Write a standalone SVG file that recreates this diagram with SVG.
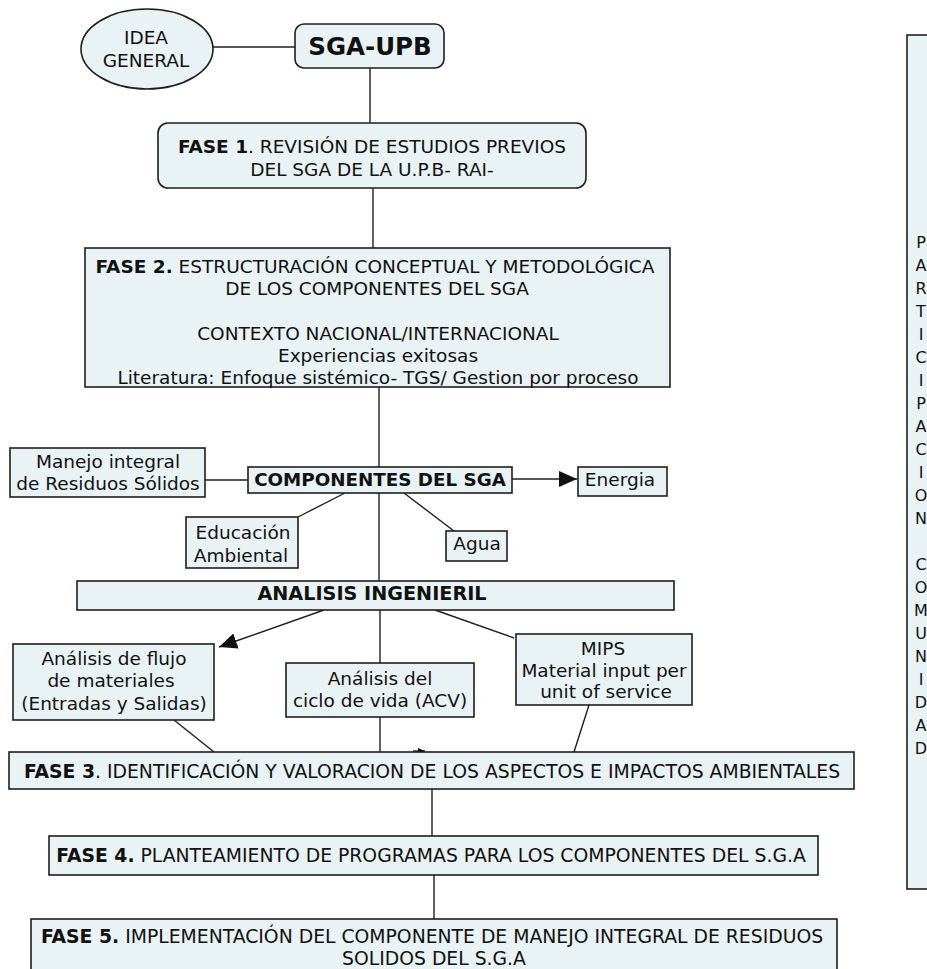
<svg xmlns="http://www.w3.org/2000/svg" width="927" height="969" viewBox="0 0 927 969">
<style>
.box{fill:#e9f2f5;stroke:#1e1e1e;stroke-width:1.6}
.ln{fill:none;stroke:#1e1e1e;stroke-width:1.4}
text{font-family:"DejaVu Sans","Liberation Sans",sans-serif;fill:#111;font-size:18.5px}
.c{text-anchor:middle}
.b{font-weight:bold}
.v{font-size:16px;text-anchor:middle}
</style>
<defs>
<marker id="ah" markerUnits="userSpaceOnUse" markerWidth="20" markerHeight="16" refX="18" refY="8" orient="auto">
<path d="M0,0 L18,8 L0,16 Z" fill="#111"/>
</marker>
<marker id="sm" markerUnits="userSpaceOnUse" markerWidth="8" markerHeight="6" refX="7" refY="3" orient="auto">
<path d="M0,0 L7,3 L0,6 Z" fill="#111"/>
</marker>
</defs>
<rect width="927" height="969" fill="#fff"/>

<g id="connectors">
<path class="ln" d="M213,47 H295"/>
<path class="ln" d="M370,68 V123"/>
<path class="ln" d="M373,188 V248"/>
<path class="ln" d="M379,387 V467"/>
<path class="ln" d="M205,480 H248"/>
<path class="ln" d="M512,479 H577" marker-end="url(#ah)"/>
<path class="ln" d="M345,493 L298,517"/>
<path class="ln" d="M404,493 L454,531"/>
<path class="ln" d="M379,493 V581"/>
<path class="ln" d="M324,610 L219,647" marker-end="url(#ah)"/>
<path class="ln" d="M380,610 V663"/>
<path class="ln" d="M435,610 L514,638"/>
<path class="ln" d="M174,720 L214,752"/>
<path class="ln" d="M380,717 V752"/>
<path class="ln" d="M413,751 H425" marker-end="url(#sm)"/>
<path class="ln" d="M589,705 L574,752"/>
<path class="ln" d="M432,789 V836"/>
<path class="ln" d="M434,875 V919"/>
</g>

<g id="idea">
<ellipse class="box" cx="147" cy="49" rx="66" ry="40"/>
<text class="c" x="146" y="44">IDEA</text>
<text class="c" x="146" y="67">GENERAL</text>
</g>

<g id="sga">
<rect class="box" x="295" y="24" width="149" height="44" rx="9"/>
<text class="c b" x="370" y="55" style="font-size:24.5px">SGA-UPB</text>
</g>

<g id="fase1">
<rect class="box" x="158" y="123" width="428" height="65" rx="10"/>
<text class="c" x="372" y="153"><tspan class="b">FASE 1</tspan>. REVISIÓN DE ESTUDIOS PREVIOS</text>
<text class="c" x="372" y="176">DEL SGA DE LA U.P.B- RAI-</text>
</g>

<g id="fase2">
<rect class="box" x="85" y="248" width="585" height="139"/>
<text class="c" x="375" y="273"><tspan class="b">FASE 2.</tspan> ESTRUCTURACIÓN CONCEPTUAL Y METODOLÓGICA</text>
<text class="c" x="377" y="295">DE LOS COMPONENTES DEL SGA</text>
<text class="c" x="378" y="340">CONTEXTO NACIONAL/INTERNACIONAL</text>
<text class="c" x="378" y="362">Experiencias exitosas</text>
<text class="c" x="378" y="384">Literatura: Enfoque sistémico- TGS/ Gestion por proceso</text>
</g>

<g id="manejo">
<rect class="box" x="10" y="448" width="195" height="49"/>
<text class="c" x="108" y="468">Manejo integral</text>
<text class="c" x="108" y="490">de Residuos Sólidos</text>
</g>

<g id="componentes">
<rect class="box" x="248" y="467" width="264" height="26"/>
<text class="c b" x="380" y="486" style="font-size:18.3px">COMPONENTES DEL SGA</text>
</g>

<g id="energia">
<rect class="box" x="578" y="467" width="89" height="29"/>
<text class="c" x="620" y="486">Energia</text>
</g>

<g id="educacion">
<rect class="box" x="186" y="517" width="112" height="51"/>
<text class="c" x="243" y="539">Educación</text>
<text class="c" x="241" y="562">Ambiental</text>
</g>

<g id="agua">
<rect class="box" x="446" y="531" width="61" height="30"/>
<text class="c" x="477" y="550">Agua</text>
</g>

<g id="analisis">
<rect class="box" x="77" y="581" width="597" height="29"/>
<text class="c b" x="372" y="600" style="font-size:19.2px">ANALISIS INGENIERIL</text>
</g>

<g id="flujo">
<rect class="box" x="13" y="644" width="201" height="76"/>
<text class="c" x="114" y="665">Análisis de flujo</text>
<text class="c" x="111" y="687">de materiales</text>
<text class="c" x="114" y="710">(Entradas y Salidas)</text>
</g>

<g id="ciclo">
<rect class="box" x="286" y="663" width="188" height="54"/>
<text class="c" x="380" y="685">Análisis del</text>
<text class="c" x="380" y="707">ciclo de vida (ACV)</text>
</g>

<g id="mips">
<rect class="box" x="516" y="634" width="176" height="71"/>
<text class="c" x="603" y="655">MIPS</text>
<text class="c" x="604" y="677">Material input per</text>
<text class="c" x="606" y="698">unit of service</text>
</g>

<g id="fase3">
<rect class="box" x="9" y="752" width="845" height="37"/>
<text class="c" x="432" y="778" style="font-size:18.8px"><tspan class="b">FASE 3</tspan>. IDENTIFICACIÓN Y VALORACION DE LOS ASPECTOS E IMPACTOS AMBIENTALES</text>
</g>

<g id="fase4">
<rect class="box" x="49" y="836" width="769" height="39"/>
<text class="c" x="431" y="862" style="font-size:18.8px"><tspan class="b">FASE 4.</tspan> PLANTEAMIENTO DE PROGRAMAS PARA LOS COMPONENTES DEL S.G.A</text>
</g>

<g id="fase5">
<rect class="box" x="31" y="919" width="806" height="60"/>
<text class="c" x="432" y="943" style="font-size:18.8px"><tspan class="b">FASE 5.</tspan> IMPLEMENTACIÓN DEL COMPONENTE DE MANEJO INTEGRAL DE RESIDUOS</text>
<text class="c" x="434" y="965" style="font-size:18.8px">SOLIDOS DEL S.G.A</text>
</g>

<g id="participacion">
<rect class="box" x="907" y="35" width="40" height="854"/>
<text class="v" x="921" y="248">P</text>
<text class="v" x="921" y="271">A</text>
<text class="v" x="921" y="294">R</text>
<text class="v" x="921" y="317">T</text>
<text class="v" x="921" y="340">I</text>
<text class="v" x="921" y="363">C</text>
<text class="v" x="921" y="386">I</text>
<text class="v" x="921" y="409">P</text>
<text class="v" x="921" y="432">A</text>
<text class="v" x="921" y="455">C</text>
<text class="v" x="921" y="478">I</text>
<text class="v" x="921" y="501">O</text>
<text class="v" x="921" y="524">N</text>
<text class="v" x="921" y="570">C</text>
<text class="v" x="921" y="593">O</text>
<text class="v" x="921" y="616">M</text>
<text class="v" x="921" y="639">U</text>
<text class="v" x="921" y="662">N</text>
<text class="v" x="921" y="685">I</text>
<text class="v" x="921" y="708">D</text>
<text class="v" x="921" y="731">A</text>
<text class="v" x="921" y="754">D</text>
</g>
</svg>
